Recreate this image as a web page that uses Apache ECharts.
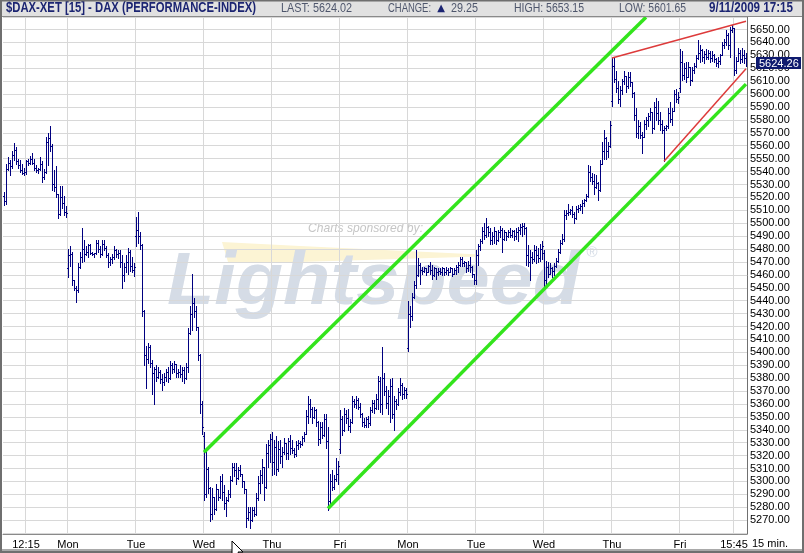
<!DOCTYPE html>
<html><head><meta charset="utf-8">
<script src="https://cdn.jsdelivr.net/npm/echarts@6/dist/echarts.min.js"></script>
<style>html,body{margin:0;padding:0;background:#fff}#c{width:804px;height:553px}</style>
</head><body><div id="c"></div><script>
// ---------------- DATA ----------------
const dayDates = ['8/28','8/31','9/1','9/2','9/3','9/4','9/7','9/8','9/9','9/10','9/11'];
const barTimes = ['09:00','09:15','09:30','09:45','10:00','10:15','10:30','10:45','11:00','11:15','11:30','11:45',
  '12:00','12:15','12:30','12:45','13:00','13:15','13:30','13:45','14:00','14:15','14:30','14:45',
  '15:00','15:15','15:30','15:45','16:00','16:15','16:30','16:45','17:00','17:15'];
// bars: [open, high, low, close]
const aug28 = [[5521,5524,5514,5517],[5517,5546,5515,5542],[5542,5551,5541,5547],[5547,5549,5537,5544],[5544,5556,5543,5553],[5553,5562,5549,5557],[5557,5559,5546,5548],[5548,5550,5543,5545],[5545,5549,5540,5541],[5541,5546,5538,5539],[5539,5543,5537,5540],[5540,5549,5538,5548],[5548,5550,5545,5547],[5547,5552,5546,5550],[5550,5554,5546,5547],[5547,5550,5541,5543],[5543,5545,5540,5541],[5541,5543,5539,5542],[5542,5551,5541,5546],[5546,5548,5532,5536],[5536,5542,5534,5540],[5540,5567,5539,5563],[5563,5570,5545,5566],[5566,5575,5556,5560],[5560,5561,5526,5530],[5530,5541,5525,5528],[5528,5544,5520,5523],[5523,5523,5504,5507],[5507,5529,5506,5520],[5520,5529,5512,5516],[5516,5521,5506,5509],[5509,5513,5505,5508]];
const aug31 = [[5465,5480,5458,5475],[5475,5482,5467,5476],[5476,5478,5452,5456],[5456,5456,5448,5450],[5450,5451,5439,5448],[5448,5469,5447,5466],[5466,5478,5465,5474],[5474,5496,5470,5480],[5480,5487,5471,5476],[5476,5482,5475,5478],[5478,5484,5474,5483],[5483,5484,5476,5477],[5477,5478,5475,5476],[5476,5477,5474,5477],[5477,5487,5476,5485],[5485,5487,5478,5480],[5480,5482,5474,5476],[5476,5487,5475,5484],[5484,5487,5479,5481],[5481,5482,5474,5475],[5475,5477,5466,5470],[5470,5474,5468,5472],[5472,5476,5469,5474],[5474,5482,5472,5479],[5479,5480,5474,5476],[5476,5479,5473,5477],[5477,5479,5466,5470],[5470,5475,5450,5460],[5460,5469,5455,5466],[5466,5475,5462,5470],[5470,5481,5461,5478],[5478,5479,5463,5467],[5467,5474,5462,5464],[5464,5469,5459,5466]];
const sep01 = [[5490,5505,5482,5495],[5495,5509,5485,5490],[5490,5493,5480,5483],[5483,5484,5428,5432],[5432,5433,5390,5398],[5398,5405,5372,5395],[5395,5407,5392,5404],[5404,5406,5389,5392],[5392,5394,5368,5384],[5384,5389,5360,5387],[5387,5390,5378,5381],[5381,5389,5380,5385],[5385,5386,5376,5379],[5379,5383,5371,5377],[5377,5384,5375,5381],[5381,5387,5378,5385],[5385,5389,5377,5380],[5380,5393,5379,5390],[5390,5392,5384,5387],[5387,5393,5385,5391],[5391,5391,5381,5384],[5384,5387,5381,5385],[5385,5390,5381,5383],[5383,5389,5378,5386],[5386,5389,5376,5380],[5380,5392,5379,5389],[5389,5419,5385,5415],[5415,5436,5414,5430],[5430,5461,5417,5438],[5438,5442,5427,5432],[5432,5436,5417,5420],[5420,5420,5394,5398],[5398,5399,5353,5360],[5360,5362,5337,5342]];
const sep02 = [[5335,5338,5286,5290],[5290,5324,5288,5310],[5310,5311,5291,5295],[5295,5296,5269,5275],[5275,5295,5271,5288],[5288,5288,5275,5279],[5279,5298,5278,5294],[5294,5294,5286,5288],[5288,5304,5287,5300],[5300,5306,5286,5292],[5292,5297,5279,5283],[5283,5288,5273,5286],[5286,5293,5285,5290],[5290,5304,5288,5301],[5301,5314,5300,5311],[5311,5314,5304,5309],[5309,5314,5298,5303],[5303,5311,5302,5309],[5309,5313,5304,5306],[5306,5306,5296,5300],[5300,5300,5291,5294],[5294,5294,5265,5272],[5272,5280,5270,5276],[5276,5280,5264,5270],[5270,5280,5269,5278],[5278,5280,5273,5275],[5275,5291,5274,5287],[5287,5304,5286,5299],[5299,5309,5291,5305],[5305,5317,5299,5311],[5311,5311,5286,5296],[5296,5329,5295,5322],[5322,5332,5311,5328],[5328,5337,5315,5333]];
const sep03 = [[5333,5338,5305,5315],[5315,5332,5306,5327],[5327,5335,5305,5310],[5310,5331,5308,5325],[5325,5332,5314,5320],[5320,5327,5311,5323],[5323,5334,5321,5330],[5330,5330,5317,5322],[5322,5334,5317,5331],[5331,5336,5321,5326],[5326,5332,5322,5324],[5324,5326,5319,5321],[5321,5331,5320,5328],[5328,5332,5325,5330],[5330,5331,5327,5329],[5329,5335,5328,5334],[5334,5338,5331,5337],[5337,5355,5337,5351],[5351,5366,5345,5360],[5360,5364,5350,5356],[5356,5358,5345,5350],[5350,5358,5349,5355],[5355,5356,5343,5346],[5346,5347,5328,5333],[5333,5346,5330,5342],[5342,5346,5334,5336],[5336,5352,5335,5348],[5348,5352,5326,5331],[5331,5342,5278,5285],[5285,5306,5280,5300],[5300,5309,5293,5296],[5296,5305,5294,5302],[5302,5318,5300,5306],[5306,5316,5298,5312]];
const sep04 = [[5325,5355,5322,5348],[5348,5351,5336,5340],[5340,5357,5339,5352],[5352,5355,5345,5349],[5349,5356,5340,5343],[5343,5348,5338,5346],[5346,5366,5345,5362],[5362,5364,5358,5360],[5360,5366,5357,5363],[5363,5365,5356,5358],[5358,5361,5350,5352],[5352,5353,5343,5346],[5346,5349,5342,5344],[5344,5350,5342,5348],[5348,5351,5342,5345],[5345,5358,5344,5355],[5355,5363,5354,5361],[5361,5363,5353,5357],[5357,5368,5356,5364],[5364,5382,5356,5378],[5378,5381,5354,5360],[5360,5404,5352,5380],[5380,5384,5367,5370],[5370,5374,5357,5361],[5361,5371,5352,5366],[5366,5379,5346,5374],[5374,5380,5349,5352],[5352,5366,5340,5362],[5362,5364,5356,5360],[5360,5372,5359,5369],[5369,5380,5367,5375],[5375,5376,5364,5368],[5368,5373,5365,5371],[5371,5372,5365,5368]];
const sep07 = [[5403,5440,5401,5430],[5430,5436,5420,5428],[5428,5446,5425,5443],[5443,5455,5442,5452],[5452,5479,5450,5460],[5460,5473,5459,5468],[5468,5469,5453,5464],[5464,5466,5461,5463],[5463,5466,5462,5465],[5465,5465,5460,5462],[5462,5468,5462,5467],[5467,5470,5461,5464],[5464,5468,5457,5460],[5460,5466,5459,5465],[5465,5465,5457,5462],[5462,5465,5460,5463],[5463,5465,5461,5462],[5462,5466,5460,5465],[5465,5465,5460,5462],[5462,5466,5461,5464],[5464,5465,5460,5462],[5462,5466,5462,5465],[5465,5465,5459,5461],[5461,5465,5461,5464],[5464,5468,5461,5466],[5466,5470,5462,5468],[5468,5474,5467,5472],[5472,5474,5467,5469],[5469,5471,5467,5470],[5470,5470,5462,5465],[5465,5471,5463,5468],[5468,5474,5462,5466],[5466,5467,5458,5461],[5461,5461,5453,5456]];
const sep08 = [[5456,5479,5453,5475],[5475,5484,5468,5482],[5482,5488,5479,5486],[5486,5497,5485,5494],[5494,5500,5488,5491],[5491,5504,5489,5497],[5497,5498,5490,5493],[5493,5496,5484,5487],[5487,5493,5484,5490],[5490,5497,5485,5494],[5494,5494,5484,5487],[5487,5495,5486,5493],[5493,5498,5489,5495],[5495,5496,5478,5488],[5488,5495,5487,5493],[5493,5493,5487,5490],[5490,5495,5489,5493],[5493,5496,5489,5491],[5491,5495,5489,5494],[5494,5495,5487,5490],[5490,5496,5488,5493],[5493,5497,5486,5495],[5495,5499,5492,5497],[5497,5500,5490,5498],[5498,5500,5492,5496],[5496,5497,5468,5475],[5475,5483,5467,5470],[5470,5479,5456,5474],[5474,5478,5469,5472],[5472,5483,5471,5479],[5479,5482,5469,5475],[5475,5481,5470,5473],[5473,5484,5471,5480],[5480,5486,5472,5482]];
const sep09 = [[5477,5479,5451,5456],[5456,5471,5451,5466],[5466,5470,5458,5461],[5461,5469,5461,5465],[5465,5466,5458,5463],[5463,5469,5460,5467],[5467,5473,5466,5471],[5471,5480,5470,5478],[5478,5487,5477,5485],[5485,5492,5484,5488],[5488,5510,5486,5506],[5506,5510,5503,5508],[5508,5515,5506,5509],[5509,5511,5507,5510],[5510,5513,5505,5507],[5507,5509,5500,5504],[5504,5513,5503,5511],[5511,5514,5509,5512],[5512,5515,5510,5513],[5513,5518,5508,5516],[5516,5519,5513,5518],[5518,5523,5517,5521],[5521,5545,5520,5540],[5540,5544,5533,5536],[5536,5539,5530,5533],[5533,5538,5523,5528],[5528,5537,5527,5531],[5531,5532,5518,5526],[5526,5549,5525,5546],[5546,5563,5546,5556],[5556,5572,5550,5566],[5566,5567,5550,5556],[5556,5563,5551,5560],[5560,5579,5559,5576]];
const sep10 = [[5595,5628,5591,5622],[5622,5628,5609,5612],[5612,5618,5602,5605],[5605,5610,5593,5596],[5596,5606,5591,5603],[5603,5612,5600,5610],[5610,5618,5608,5614],[5614,5614,5602,5606],[5606,5617,5605,5613],[5613,5617,5606,5609],[5609,5609,5598,5601],[5601,5602,5580,5584],[5584,5589,5567,5570],[5570,5580,5566,5575],[5575,5578,5566,5568],[5568,5571,5554,5567],[5567,5580,5567,5577],[5577,5582,5573,5580],[5580,5585,5575,5583],[5583,5589,5580,5586],[5586,5586,5570,5574],[5574,5594,5573,5590],[5590,5597,5580,5585],[5585,5595,5577,5580],[5580,5586,5572,5577],[5577,5580,5570,5572],[5572,5575,5548,5574],[5574,5576,5572,5575],[5575,5589,5574,5585],[5585,5594,5578,5581],[5581,5589,5576,5587],[5587,5603,5587,5600],[5600,5604,5594,5596],[5596,5602,5593,5598]];
const sep11 = [[5605,5635,5601.65,5625],[5625,5633,5611,5615],[5615,5624,5612,5620],[5620,5625,5609,5613],[5613,5625,5613,5621],[5621,5621,5607,5611],[5611,5621,5610,5619],[5619,5624,5616,5622],[5622,5630,5621,5628],[5628,5642,5627,5632],[5632,5638,5625,5634],[5634,5635,5626,5629],[5629,5633,5624,5631],[5631,5635,5627,5629],[5629,5634,5627,5632],[5632,5633,5625,5628],[5628,5633,5626,5630],[5630,5631,5625,5627],[5627,5628,5622,5624],[5624,5629,5621,5626],[5626,5631,5623,5630],[5630,5640,5630,5638],[5638,5643,5636,5640],[5640,5649.5,5638,5646],[5646,5647,5635,5638],[5638,5652,5629,5650],[5650,5653.15,5648,5651],[5651,5651,5615,5619],[5619,5629,5616,5626],[5626,5636,5626,5632],[5632,5634,5624,5627],[5627,5636,5625,5630],[5630,5634,5624,5628],[5628,5632,5622,5624.26]];
const dayBars = [aug28, aug31, sep01, sep02, sep03, sep04, sep07, sep08, sep09, sep10, sep11];

// x tick labels (category -> text)
const tickLabels = {'8/28 12:15':'12:15','8/31 09:00':'Mon','9/1 09:00':'Tue','9/2 09:00':'Wed','9/3 09:00':'Thu','9/4 09:00':'Fri',
  '9/7 09:00':'Mon','9/8 09:00':'Tue','9/9 09:00':'Wed','9/10 09:00':'Thu','9/11 09:00':'Fri','9/11 15:45':'15:45'};
// trend lines [category, price]
const channelUpper = [['9/2 09:00', 5322.7], ['9/10 13:15', 5659.5]];
const channelLower = [['9/3 16:00', 5279.0], ['9/11 17:15', 5607.7]];
const wedgeUpper = [['9/10 09:00', 5628.0], ['9/11 17:15', 5656.4]];
const wedgeLower = [['9/10 15:30', 5548.0], ['9/11 17:15', 5619.7]];
const yMin = 5259.3, yMax = 5659.7;

// ---------------- BUILD ----------------
const categories = [];
const ohlc = [];
dayBars.forEach((bars, d) => {
  const offset = barTimes.length - bars.length;
  bars.forEach((b, k) => {
    ohlc.push([categories.length, b[0], b[1], b[2], b[3]]);
    categories.push(dayDates[d] + ' ' + barTimes[offset + k]);
  });
});
const lastClose = ohlc[ohlc.length - 1][4];
const isTick = (i, v) => Object.prototype.hasOwnProperty.call(tickLabels, v);

const FONT = 'Liberation Sans, Arial, sans-serif';
const mctx = document.createElement('canvas').getContext('2d');
function fitText(text, x1, x2, yc, font, fill, z) {
  mctx.font = font;
  const w = mctx.measureText(text).width;
  return {type: 'text', x: x1, y: yc, scaleX: (x2 - x1) / w, z: z || 10, silent: true,
    style: {text: text, x: 0, y: 0, font: font, fill: fill, textAlign: 'left', verticalAlign: 'middle', textVerticalAlign: 'middle'}};
}
const BAR = '#000080';

const chart = echarts.init(document.getElementById('c'), null, {renderer: 'canvas'});
const graphics = [
  // watermark
  {type: 'polygon', z: -5, silent: true, shape: {points: [[222, 242], [300, 246], [480, 254.5], [480, 256.5], [300, 262], [228, 262]]}, style: {fill: '#fcf4d4'}},
  fitText('Lightspeed', 167, 580, 284, 'italic bold 74px ' + FONT, '#d5dce6', -4),
  {type: 'text', z: -4, silent: true, x: 592, y: 253, style: {text: '\u00ae', font: '15px ' + FONT, fill: '#d5dce6', textAlign: 'center', verticalAlign: 'middle'}},
  fitText('Charts sponsored by:', 308, 423, 228, 'italic 13px ' + FONT, '#c6c6c6', -4),
  // title bar
  {type: 'rect', z: 8, silent: true, shape: {x: 0, y: 0, width: 804, height: 16}, style: {fill: '#e1e1e1'}},
  {type: 'line', z: 9, silent: true, shape: {x1: 0, y1: 16.5, x2: 804, y2: 16.5}, style: {stroke: '#8a8a8a', lineWidth: 1}},
  fitText('$DAX-XET [15] - DAX (PERFORMANCE-INDEX)', 6, 256, 8.5, 'bold 14px ' + FONT, '#1b2472'),
  fitText('LAST: 5624.02', 281, 352, 8.5, '12px ' + FONT, '#4e566c'),
  fitText('CHANGE:', 388, 431, 8.5, '12px ' + FONT, '#4e566c'),
  {type: 'text', z: 10, silent: true, x: 441, y: 8.5, style: {text: '\u25b2', font: '10px DejaVu Sans', fill: '#1b2472', textAlign: 'center', verticalAlign: 'middle'}},
  fitText('29.25', 451, 478, 8.5, '12px ' + FONT, '#4e566c'),
  fitText('HIGH: 5653.15', 514, 584, 8.5, '12px ' + FONT, '#4e566c'),
  fitText('LOW: 5601.65', 619, 686, 8.5, '12px ' + FONT, '#4e566c'),
  fitText('9/11/2009 17:15', 709, 793, 8.5, 'bold 14px ' + FONT, '#1b2472'),
  // bottom-right interval text
  {type: 'text', z: 10, silent: true, x: 752, y: 544, style: {text: '15 min.', font: '11px ' + FONT, fill: '#000', textAlign: 'left', verticalAlign: 'middle'}},
  // frame
  {type: 'rect', z: 20, silent: true, shape: {x: 1, y: 0.5, width: 802, height: 551.5}, style: {fill: 'none', stroke: '#6f6f6f', lineWidth: 2}},
  {type: 'rect', z: 19, silent: true, shape: {x: 0, y: 549, width: 804, height: 4}, style: {fill: '#a9a9a9'}},
  // mouse cursor captured in the screenshot
  {type: 'polygon', z: 30, silent: true, shape: {points: [[232, 541], [232, 557], [236, 553], [239, 560], [241, 559], [238, 552], [243, 552]]}, style: {fill: '#ffffff', stroke: '#000000', lineWidth: 1}}
];

chart.setOption({
  animation: false,
  backgroundColor: '#ffffff',
  textStyle: {fontFamily: FONT},
  grid: {left: 3, right: 57, top: 17, bottom: 19, containLabel: false, outerBoundsMode: 'none', show: false},
  xAxis: {
    type: 'category', data: categories, boundaryGap: true,
    axisLine: {show: true, lineStyle: {color: '#8a8a8a', width: 1}},
    axisTick: {show: false, interval: isTick},
    axisLabel: {interval: isTick, formatter: v => tickLabels[v] || '', color: '#000', fontFamily: FONT, fontSize: 11, margin: 5, hideOverlap: false},
    splitLine: {show: true, interval: isTick, lineStyle: {color: '#d8d8d8', width: 1}}
  },
  yAxis: {
    type: 'value', position: 'right', min: yMin, max: yMax, splitNumber: 40, minInterval: 10, maxInterval: 10,
    axisLine: {show: true, lineStyle: {color: '#707070', width: 1}},
    axisTick: {show: false},
    axisLabel: {showMinLabel: false, showMaxLabel: false, color: '#000', fontFamily: FONT, fontSize: 11, margin: 3, hideOverlap: false,
      formatter: v => (Math.abs(v - Math.round(v / 10) * 10) < 1e-6 && v >= 5270 && v <= 5650) ? v.toFixed(2) : ''},
    splitLine: {show: true, lineStyle: {color: '#d8d8d8', width: 1}}
  },
  series: [
    {
      type: 'custom', name: 'DAX', data: ohlc, clip: true, z: 2,
      encode: {x: 0, y: [1, 2, 3, 4]},
      renderItem: function (params, api) {
        const i = api.value(0);
        const o = api.coord([i, api.value(1)]);
        const h = api.coord([i, api.value(2)]);
        const l = api.coord([i, api.value(3)]);
        const c = api.coord([i, api.value(4)]);
        const n = Math.round(o[0]);
        const x = n + 0.5;
        const yo = Math.round(o[1]) + 0.5, yc = Math.round(c[1]) + 0.5;
        const st = {stroke: BAR, lineWidth: 1};
        return {type: 'group', children: [
          {type: 'line', shape: {x1: x, y1: Math.round(h[1]), x2: x, y2: Math.round(l[1]) + 1}, style: st},
          {type: 'line', shape: {x1: n - 1, y1: yo, x2: n + 1, y2: yo}, style: st},
          {type: 'line', shape: {x1: n, y1: yc, x2: n + 2, y2: yc}, style: st}
        ]};
      }
    },
    {type: 'line', data: channelUpper, showSymbol: false, symbol: 'none', z: 4, silent: true, lineStyle: {color: '#33e41c', width: 3.5}},
    {type: 'line', data: channelLower, showSymbol: false, symbol: 'none', z: 4, silent: true, lineStyle: {color: '#33e41c', width: 3.5}},
    {type: 'line', data: wedgeUpper, showSymbol: false, symbol: 'none', z: 4, silent: true, lineStyle: {color: '#dd3a3a', width: 1.5}},
    {type: 'line', data: wedgeLower, showSymbol: false, symbol: 'none', z: 4, silent: true, lineStyle: {color: '#dd3a3a', width: 1.5}}
  ],
  graphic: {elements: graphics}
});

// last-price tag on the price axis, positioned through the y scale
const yLast = chart.convertToPixel({yAxisIndex: 0}, lastClose);
graphics.push({type: 'rect', z: 12, silent: true, shape: {x: 756, y: Math.round(yLast) - 6, width: 45, height: 12}, style: {fill: '#0e1a6e'}});
graphics.push({type: 'text', z: 13, silent: true, x: 759, y: Math.round(yLast) + 0.5,
  style: {text: lastClose.toFixed(2), font: '11px ' + FONT, fill: '#ffffff', textAlign: 'left', verticalAlign: 'middle'}});
chart.setOption({graphic: {elements: graphics}}, {replaceMerge: ['graphic']});
</script></body></html>
